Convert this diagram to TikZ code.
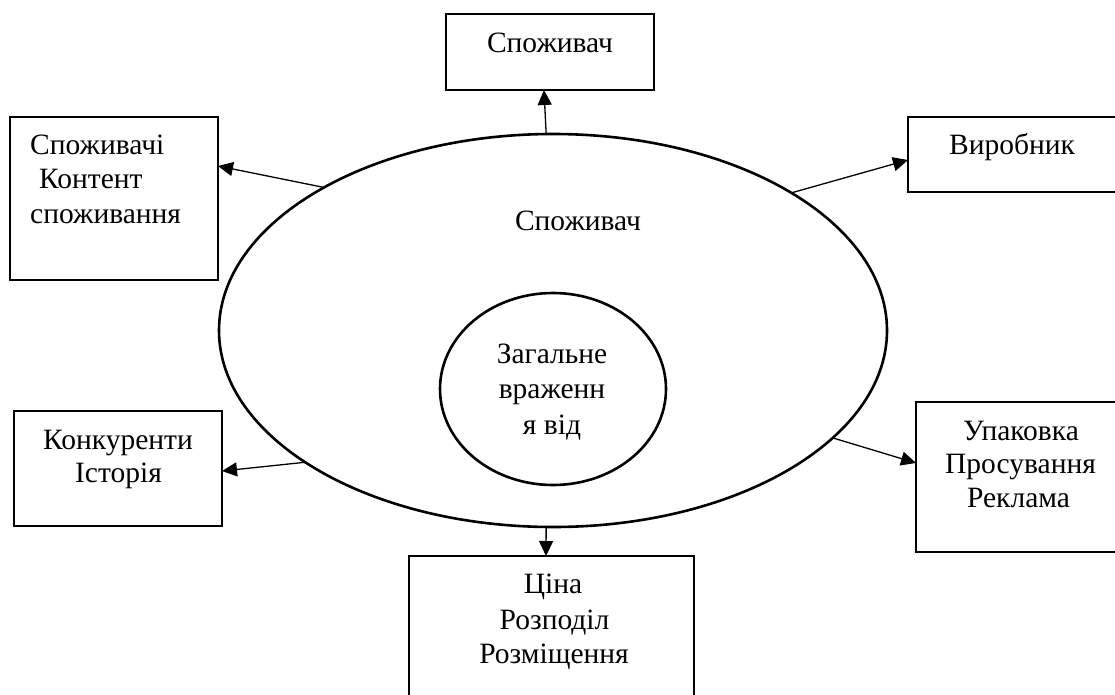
\documentclass[tikz,border=0pt]{standalone}
\usepackage{fontspec}
\setmainfont{Liberation Serif}
\usetikzlibrary{arrows.meta,shapes.geometric}
\begin{document}
\begin{tikzpicture}[x=1pt,y=-1pt,
  box/.style={draw,line width=1.3pt,rectangle,inner sep=0pt,outer sep=0pt},
  oval/.style={draw,line width=2.6pt,ellipse,inner sep=0pt,outer sep=0pt},
  txt/.style={font=\fontsize{29.5}{35}\selectfont,anchor=base,inner sep=0pt},
  arr/.style={line width=1.3pt,-{Triangle[length=15pt,width=14pt]}}]
\useasboundingbox (0,0) rectangle (1115,695);
% boxes by centre and size
\node[box,minimum width=208pt,minimum height=76pt] (top) at (550,52) {};
\node[box,minimum width=208pt,minimum height=163pt] (tl) at (114,198.5) {};
\node[box,minimum width=220pt,minimum height=75pt] (tr) at (1018,154.5) {};
\node[box,minimum width=208pt,minimum height=115pt] (lb) at (118,468.5) {};
\node[box,minimum width=210pt,minimum height=150pt] (rb) at (1021,477) {};
\node[box,minimum width=285pt,minimum height=160pt] (bot) at (551.5,636) {};
% ellipses
\node[oval,minimum width=668pt,minimum height=393pt] (big) at (553,330.5) {};
\node[oval,minimum width=226pt,minimum height=192pt] (inner) at (553,389) {};
% texts
\node[txt] (ttop) at (550,53) {Споживач};
\node[txt,anchor=base west] (ttl1) at (30,155) {Споживачі};
\node[txt,anchor=base west] (ttl2) at (39,188) {Контент};
\node[txt,anchor=base west] (ttl3) at (30,223) {споживання};
\node[txt] (ttr) at (1012,155) {Виробник};
\node[txt] (tlb1) at (118,449) {Конкуренти};
\node[txt] (tlb2) at (118.5,482) {Історія};
\node[txt] (trb1) at (1021,440) {Упаковка};
\node[txt] (trb2) at (1020.5,473) {Просування};
\node[txt] (trb3) at (1018.5,507) {Реклама};
\node[txt] (tb1) at (553,593) {Ціна};
\node[txt] (tb2) at (554.5,629) {Розподіл};
\node[txt] (tb3) at (554,663) {Розміщення};
\node[txt] (tbig) at (578,230) {Споживач};
\node[txt] (tin1) at (552,363) {Загальне};
\node[txt] (tin2) at (552,398) {враженн};
\node[txt] (tin3) at (552,434) {я від};
% connectors
\draw[arr] (big.92.3) -- ([xshift=-6pt]top.south);
\draw[arr] (big.148.5) -- ([yshift=32.5pt]tl.east);
\draw[arr] (big.30.2) -- ([yshift=-5.5pt]tr.west);
\draw[arr] (big.208.1) -- ([yshift=-2.5pt]lb.east);
\draw[arr] (big.339.2) -- ([yshift=14pt]rb.west);
\draw[arr] (big.268) -- ([xshift=-5.5pt]bot.north);
\end{tikzpicture}
\end{document}
